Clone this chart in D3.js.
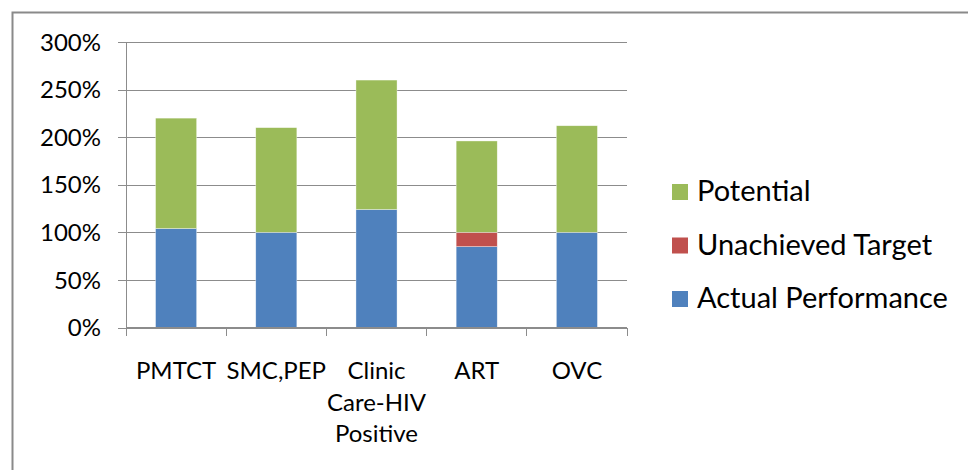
<!DOCTYPE html>
<html>
<head>
<meta charset="utf-8">
<script src="https://cdn.jsdelivr.net/npm/d3@7"></script>
<style>
  html, body { margin: 0; padding: 0; background: #fff; }
  svg { display: block; }
  text { font-family: Lato, "Open Sans", sans-serif; fill: #000; }
</style>
</head>
<body>
<svg id="chart" width="968" height="470"></svg>
<script>
// Programme areas along the x axis (multi-line labels are split on "\n")
const categories = ["PMTCT", "SMC,PEP", "Clinic\nCare-HIV\nPositive", "ART", "OVC"];

// Stacked series, in percent of target
const actualPerformance = [104, 100, 124, 85, 100];
const unachievedTarget  = [0, 0, 0, 15, 0];
const potential         = [116, 110, 136, 96, 112];

// Y axis ticks
const yTicks = [0, 50, 100, 150, 200, 250, 300];

const seriesNames = ["Actual Performance", "Unachieved Target", "Potential"];
const seriesColors = {
  "Actual Performance": "#4F81BD",
  "Unachieved Target": "#C0504D",
  "Potential": "#9BBB59"
};

const rows = categories.map((c, i) => ({
  category: c,
  "Actual Performance": actualPerformance[i],
  "Unachieved Target": unachievedTarget[i],
  "Potential": potential[i]
}));

const svg = d3.select("#chart");
const plot = { left: 126, right: 627, top: 42, bottom: 327.5 };

// Outer chart frame (runs off the right and bottom edges)
svg.append("rect")
  .attr("x", 12.5).attr("y", 12.5)
  .attr("width", 1000).attr("height", 1000)
  .attr("fill", "none")
  .attr("stroke", "#8a8a8a")
  .attr("stroke-width", 2);

const x = d3.scaleBand()
  .domain(categories)
  .range([plot.left, plot.right])
  .paddingInner(0.59)
  .paddingOuter(0.295);

const y = d3.scaleLinear()
  .domain([0, 300])
  .range([plot.bottom, plot.top]);

const gridColor = "#8c8c8c";

// Horizontal gridlines with short outward ticks
const yAxis = d3.axisLeft(y)
  .tickValues(yTicks)
  .tickSize(-(plot.right - plot.left))
  .tickSizeOuter(0)
  .tickFormat(d => d + "%");

const gy = svg.append("g")
  .attr("transform", `translate(${plot.left},0)`)
  .call(yAxis);
gy.select(".domain").remove();
gy.selectAll(".tick line")
  .attr("x1", -8)
  .attr("stroke", gridColor)
  .attr("shape-rendering", "crispEdges");
gy.selectAll(".tick text")
  .attr("x", -25)
  .attr("dy", "0.34em")
  .style("font-size", "24px")
  .style("font-family", "Lato, 'Open Sans', sans-serif")
  .attr("fill", "#000");

// Vertical axis line
svg.append("line")
  .attr("x1", plot.left).attr("x2", plot.left)
  .attr("y1", plot.top).attr("y2", plot.bottom + 8)
  .attr("stroke", gridColor)
  .attr("shape-rendering", "crispEdges");

// Stacked bars
const stack = d3.stack().keys(seriesNames);
const layers = stack(rows);

svg.append("g")
  .selectAll("g")
  .data(layers)
  .join("g")
  .attr("fill", d => seriesColors[d.key])
  .selectAll("rect")
  .data(d => d.filter(s => s[1] - s[0] > 0))
  .join("rect")
  .attr("x", d => x(d.data.category))
  .attr("width", x.bandwidth())
  .attr("y", d => y(d[1]))
  .attr("height", d => y(d[0]) - y(d[1]))
  .attr("stroke", "rgba(255,255,255,0.6)")
  .attr("stroke-width", 0.6);

// Category axis: ticks at band boundaries
const boundaries = categories.map(c => x(c) - x.step() * x.paddingInner() / 2)
  .concat([plot.right]);
svg.append("line")
  .attr("x1", plot.left).attr("x2", plot.right)
  .attr("y1", plot.bottom).attr("y2", plot.bottom)
  .attr("stroke", gridColor)
  .attr("shape-rendering", "crispEdges");
svg.append("g")
  .selectAll("line")
  .data(boundaries)
  .join("line")
  .attr("x1", d => d).attr("x2", d => d)
  .attr("y1", plot.bottom).attr("y2", plot.bottom + 8)
  .attr("stroke", gridColor)
  .attr("shape-rendering", "crispEdges");

// Category labels
const lineStep = 31.7;
svg.append("g")
  .selectAll("text")
  .data(categories)
  .join("text")
  .attr("text-anchor", "middle")
  .attr("transform", d => `translate(${x(d) + x.bandwidth() / 2},379)`)
  .style("font-size", "24px")
  .each(function (d) {
    d3.select(this).selectAll("tspan")
      .data(d.split("\n"))
      .join("tspan")
      .attr("x", 0)
      .attr("y", (t, i) => i * lineStep)
      .text(t => t);
  });

// Legend (top to bottom: Potential, Unachieved Target, Actual Performance)
const legendItems = seriesNames.slice().reverse();
const legend = svg.append("g")
  .attr("transform", "translate(672,184)");
const item = legend.selectAll("g")
  .data(legendItems)
  .join("g")
  .attr("transform", (d, i) => `translate(0,${i * 53.5})`);
item.append("rect")
  .attr("width", 16).attr("height", 16)
  .attr("fill", d => seriesColors[d]);
item.append("text")
  .attr("x", 25)
  .attr("y", 17)
  .style("font-size", "29px")
  .text(d => d);
</script>
</body>
</html>
